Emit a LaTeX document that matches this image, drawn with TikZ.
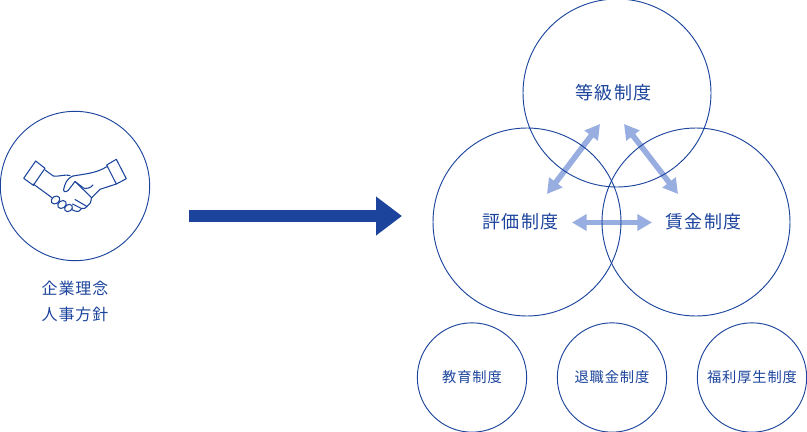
\documentclass[tikz,border=0pt]{standalone}
\usepackage{fontspec}
\setmainfont{Noto Sans CJK JP}[LetterSpace=6]
\definecolor{navy}{HTML}{1C449C}
\definecolor{pale}{HTML}{98ADE0}
\usetikzlibrary{arrows.meta,positioning}

\begin{document}
\begin{tikzpicture}[
  x=0.75pt, y=-0.75pt,
  ring/.style={draw=navy, circle, line width=0.7pt, inner sep=0pt, outer sep=0pt},
  big/.style={ring, minimum size=141pt},
  small/.style={ring, minimum size=82pt, text=navy, font=\fontsize{10.7pt}{12pt}\selectfont},
  lab/.style={text=navy, font=\fontsize{13.5pt}{16pt}\selectfont, inner sep=0pt},
  arr/.style={{Triangle[length=11pt,width=12pt]}-{Triangle[length=11pt,width=12pt]}, pale, line width=4.2pt},
  mainarr/.style={-{Triangle[length=19.5pt,width=28pt]}, navy, line width=9pt},
  hand/.style={navy, line width=0.8pt, line join=round, line cap=round}
]
\useasboundingbox (0,0) rectangle (807,432);

\coordinate (a1) at (600,124);
\coordinate (a2) at (547,194);
\coordinate (a3) at (624,124);
\coordinate (a4) at (678,194);
\coordinate (a5) at (572,222.5);
\coordinate (a6) at (652,222.5);
\coordinate (m1) at (189,216);
\coordinate (m2) at (402,216);

\draw[arr] (a1) -- (a2);
\draw[arr] (a3) -- (a4);
\draw[arr] (a5) -- (a6);
\draw[mainarr] (m1) -- (m2);

\node[big] (tou) at (617,93) {};
\node[big] (hyo) at (527,222) {};
\node[big] (chi) at (696,222) {};
\node[lab] (toutxt) at (613.5,93) {等級制度};
\node[lab] (hyotxt) at (520.5,222) {評価制度};
\node[lab] (chitxt) at (703.5,222) {賃金制度};

\node[small] (kyo) at (472,377.5) {教育制度};
\node[small] (tai) at (612,377.5) {退職金制度};
\node[small] (fuk) at (752,377.5) {福利厚生制度};

\node[ring, minimum size=112pt] (rin) at (75,186) {};
\node[text=navy, align=center, inner sep=0pt, font=\fontsize{12pt}{19.5pt}\selectfont] (jin) at (75,301.5) {企業理念\\人事方針};

% handshake
\draw[hand] (35.7,161) -- (45,168.3) -- (33.3,185.3) -- (23.7,178.3) -- cycle;
\draw[hand] (106.7,165) -- (116.3,159.3) -- (126.3,178.7) -- (116.3,184) -- cycle;
\draw[hand] (45,170) -- (53.3,176) .. controls (58,177) and (65,174) .. (70,175.5);
\draw[hand] (73,176) .. controls (85,174) and (97,173) .. (106.7,166.7);
\draw[hand] (116.3,184) -- (100,189.3) -- (92,197.5);
\draw[hand] (33.3,184) -- (51.7,197.5);
\draw[hand] (73,176) .. controls (66,179) and (65,184) .. (63.5,190) .. controls (64,193) and (68,192) .. (70,188) -- (75,181.5);
\draw[hand] (75,181.5) -- (83.5,188) .. controls (86,189) and (91,188) .. (93,185);
\draw[hand] (75,181.5) -- (91.5,197.5) .. controls (91,202) and (90,205) .. (87,206.5) -- (75,199.5);
\draw[hand] (87,206.5) .. controls (86,208) and (84,209) .. (81.5,208.5) -- (72.5,204);
\draw[hand] (81.5,208.5) .. controls (81,211) and (78,212) .. (75,211) -- (71.5,209.5);
\draw[hand, rotate around={35:(55.5,200)}] (55.5,200) ellipse (4.6 and 3.6);
\draw[hand, rotate around={35:(62,204.5)}] (62,204.5) ellipse (4.6 and 3.6);
\draw[hand, rotate around={35:(68.5,208)}] (68.5,208) ellipse (4.2 and 3.3);
\end{tikzpicture}
\end{document}
